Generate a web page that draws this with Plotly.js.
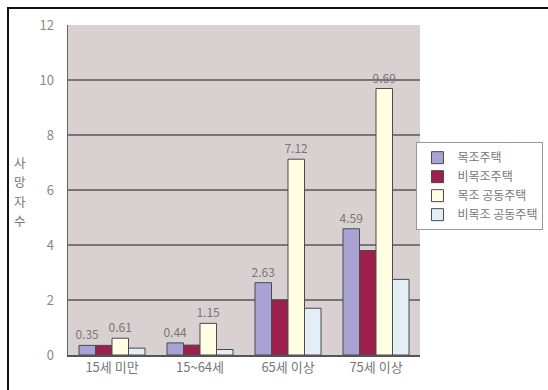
<!DOCTYPE html>
<html>
<head>
<meta charset="utf-8">
<script src="https://cdn.plot.ly/plotly-3.0.1.min.js"></script>
<style>
html,body{margin:0;padding:0;background:#fff;}
#frame{position:absolute;left:0;top:0;width:548px;height:390px;}
#border{position:absolute;left:7px;top:7px;width:541px;height:383px;border-top:2px solid #111;border-left:2px solid #111;box-sizing:border-box;pointer-events:none;}
#chart{position:absolute;left:0;top:0;width:548px;height:390px;}
</style>
</head>
<body>
<div id="frame">
<div id="chart"></div>
<div id="border"></div>
</div>
<script>
const categories = ['15세 미만', '15~64세', '65세 이상', '75세 이상'];
const seriesNames = ['목조주택', '비목조주택', '목조 공동주택', '비목조 공동주택'];
const woodHouse = [0.35, 0.44, 2.63, 4.59];
const nonWoodHouse = [0.35, 0.36, 2.0, 3.8];
const woodApartment = [0.61, 1.15, 7.12, 9.69];
const nonWoodApartment = [0.25, 0.2, 1.7, 2.75];
const yTicks = [0, 2, 4, 6, 8, 10, 12];
const yTitleChars = ['사', '망', '자', '수'];

const colors = ['#a9a3d3', '#9c1f4e', '#fffde2', '#e3eef7'];
const showLabels = [true, false, true, false];
const allValues = [woodHouse, nonWoodHouse, woodApartment, nonWoodApartment];
const font = '"Noto Sans CJK KR", "Noto Sans", sans-serif';

const traces = allValues.map((vals, i) => ({
  type: 'bar',
  name: seriesNames[i],
  x: categories,
  y: vals,
  marker: {color: colors[i], line: {color: '#4a4a4a', width: 1}},
  text: showLabels[i] ? vals.map(v => v.toFixed(2)) : vals.map(() => ''),
  textposition: 'outside',
  constraintext: 'none',
  cliponaxis: false,
  textfont: {family: font, size: 12, color: '#777'},
  hoverinfo: 'none'
}));

const plotTop = 25, plotH = 330;
const titleAnnotations = yTitleChars.map((ch, i) => ({
  xref: 'paper', yref: 'paper', x: -0.135, y: 1 - (162 + i * 19.5 - plotTop) / plotH,
  xanchor: 'center', yanchor: 'middle', showarrow: false,
  borderpad: 0,
  text: ch,
  font: {family: font, size: 12.5, color: '#777'}
}));

const layout = {
  width: 548, height: 390,
  margin: {l: 68, r: 128, t: plotTop, b: 35, autoexpand: false},
  paper_bgcolor: '#ffffff',
  plot_bgcolor: '#d9d1d1',
  barmode: 'group',
  bargap: 0.25,
  bargroupgap: 0,
  showlegend: true,
  font: {family: font, color: '#777'},
  xaxis: {
    type: 'category',
    showline: true, linecolor: '#555', linewidth: 1.5,
    ticks: '', tickfont: {family: font, size: 13, color: '#777'},
    showgrid: false
  },
  yaxis: {
    range: [0, 12], tickvals: yTicks, ticktext: yTicks.map(String),
    showline: true, linecolor: '#666', linewidth: 1.5,
    showgrid: true, gridcolor: '#7a7474', gridwidth: 1.5,
    zeroline: false, ticks: '',
    tickfont: {family: font, size: 13, color: '#888'},
    ticklabelstandoff: 10
  },
  legend: {
    x: 0.99, y: 0.645, xanchor: 'left', yanchor: 'top',
    bgcolor: '#ffffff', bordercolor: '#999', borderwidth: 1,
    font: {family: font, size: 12, color: '#777'},
    tracegroupgap: 0, itemwidth: 30
  },
  annotations: titleAnnotations
};

Plotly.newPlot('chart', traces, layout, {staticPlot: true, displayModeBar: false});
</script>
</body>
</html>
